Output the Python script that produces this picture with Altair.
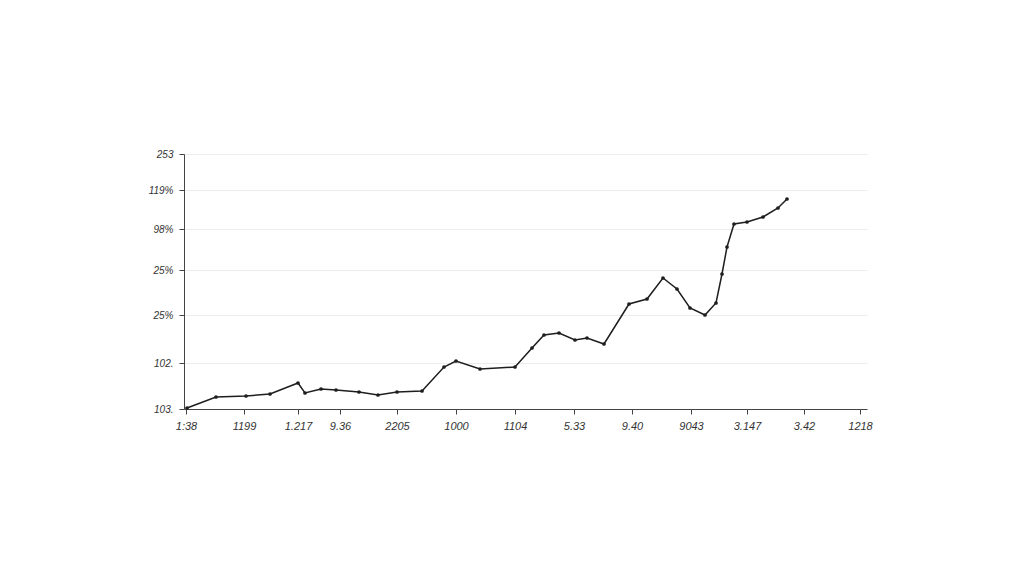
import altair as alt
import pandas as pd
import json

# x positions (axis units) and y values (axis units)
x_vals = [1, 30, 60, 84, 112, 119, 135, 150, 173, 192, 211, 236, 258, 270, 294,
          329, 346, 358, 373, 389, 401, 418, 443, 461, 477, 491, 504, 519, 530,
          536, 541, 548, 561, 577, 592, 601]
y_vals = [1, 12, 13, 15, 26, 16, 20, 19, 17, 14, 17, 18, 42, 48, 40,
          42, 61, 74, 76, 69, 71, 65, 105, 110, 131, 120, 101, 94, 106,
          135, 162, 185, 187, 192, 201, 210]

x_tick_values = [0, 58, 112, 154, 211, 270, 329, 388, 446, 505, 561, 618, 674]
x_tick_labels = ["1:38", "1199", "1.217", "9.36", "2205", "1000", "1104",
                 "5.33", "9.40", "9043", "3.147", "3.42", "1218"]

y_tick_values = [0, 46, 94, 139, 180, 219, 255]
y_tick_labels = ["103.", "102.", "25%", "25%", "98%", "119%", "253"]

df = pd.DataFrame({"x": x_vals, "y": y_vals})

x_expr = f"{json.dumps(x_tick_labels)}[indexof({json.dumps(x_tick_values)}, datum.value)]"
y_expr = f"{json.dumps(y_tick_labels)}[indexof({json.dumps(y_tick_values)}, datum.value)]"

font = "Liberation Sans"

base = alt.Chart(df).encode(
    x=alt.X("x:Q",
            scale=alt.Scale(domain=[-2, 681], nice=False, zero=False),
            axis=alt.Axis(values=x_tick_values, labelExpr=x_expr, title=None,
                          grid=False, tickSize=5, labelPadding=6,
                          labelFont=font, labelFontStyle="italic",
                          labelFontSize=11, labelColor="#333333",
                          domainColor="#444444", tickColor="#444444")),
    y=alt.Y("y:Q",
            scale=alt.Scale(domain=[0, 255], nice=False, zero=False),
            axis=alt.Axis(values=y_tick_values, labelExpr=y_expr, title=None,
                          grid=True, gridColor="#ececec", tickSize=5,
                          labelPadding=6, labelFont=font,
                          labelFontStyle="italic", labelFontSize=10,
                          labelColor="#333333", domainColor="#444444",
                          tickColor="#444444")),
)

line = base.mark_line(color="#1e1e1e", strokeWidth=1.5)
pts = base.mark_circle(color="#1e1e1e", size=14, opacity=1)

chart = (line + pts).properties(
    width=683, height=255,
    padding={"left": 176, "top": 146, "right": 20, "bottom": 100},
    autosize="none",
    background="white",
).configure_view(stroke=None)

chart.save("out.html", embed_options={"renderer": "svg", "actions": False})
